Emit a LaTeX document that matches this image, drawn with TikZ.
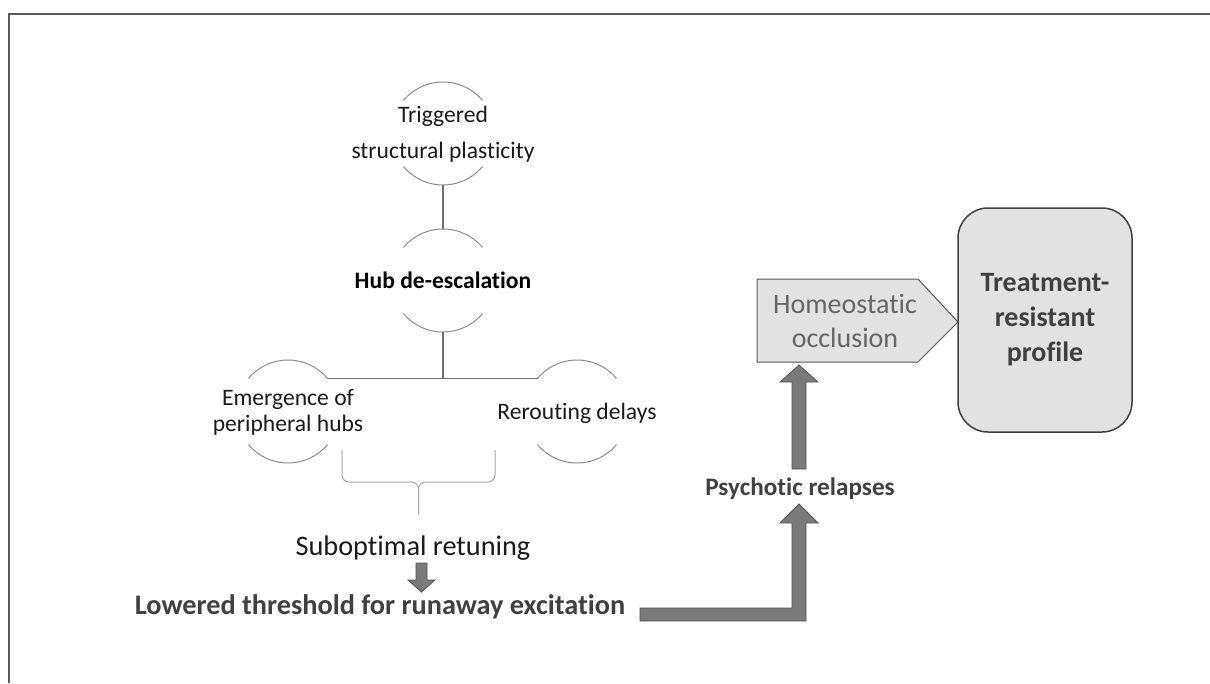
\documentclass[tikz,border=0pt]{standalone}
\usepackage{fontspec}
\setmainfont{Carlito}[Ligatures={NoCommon}]
\usetikzlibrary{calc}
\definecolor{framegray}{HTML}{5A5A5A}
\definecolor{arcgray}{HTML}{8C8C8C}
\definecolor{conngray}{HTML}{707070}
\definecolor{bracegray}{HTML}{A8A8A8}
\definecolor{arrowfill}{HTML}{7A7A7A}
\definecolor{arrowline}{HTML}{555555}
\definecolor{boxfill}{HTML}{E2E2E2}
\definecolor{homeotext}{HTML}{666666}
\definecolor{darktext}{HTML}{404040}
\definecolor{labeltext}{HTML}{1A1A1A}
\tikzset{
  frameline/.style={draw=framegray, line width=2pt},
  ring/.style={circle, minimum size=103pt, inner sep=0pt, outer sep=0pt, draw=none},
  arcline/.style={draw=arcgray, line width=1pt},
  conn/.style={draw=conngray, line width=1.3pt},
  bracel/.style={draw=bracegray, line width=1pt, rounded corners=7pt},
  blockarrow/.style={fill=arrowfill, draw=arrowline, line width=0.8pt, line join=miter},
  lbl/.style={font=\fontsize{23.6}{36}\selectfont, text=labeltext, align=center, inner sep=0pt},
  lbltight/.style={font=\fontsize{23.6}{26}\selectfont, text=labeltext, align=center, inner sep=0pt},
  bigbold/.style={font=\fontsize{28.3}{34}\selectfont\bfseries, text=darktext, inner sep=0pt},
}
\begin{document}
\begin{tikzpicture}[x=1pt,y=-1pt]
\useasboundingbox (0,0) rectangle (1210,683);
% frame
\draw[frameline] (1210,14) -- (9,14) -- (9,683);

% invisible rings that carry the arcs
\node[ring] (trigR) at (443,133.5) {};
\node[ring] (hubR)  at (443,280.5) {};
\node[ring] (emerR) at (288,411.5) {};
\node[ring] (rerR)  at (577,411.5) {};
\foreach \r in {trigR,hubR,emerR,rerR}{
  \draw[arcline] (\r.140) arc[start angle=-140, end angle=-40, radius=51.5];
  \draw[arcline] (\r.-40) arc[start angle=40, end angle=140, radius=51.5];
}

% labels
\node[lbl] (trig) at (443,134) {Triggered\\structural plasticity};
\node[lbl, font=\fontsize{23.6}{28}\selectfont\bfseries, text=black, anchor=base] (hub) at (443,288) {Hub de-escalation};
\node[lbltight] (emer) at (288,412) {Emergence of\\peripheral hubs};
\node[lbl, anchor=base] (rer) at (577,419) {Rerouting delays};

% connectors
\draw[conn] (trigR.south) -- (hubR.north);
\coordinate (junc) at (hubR.south |- emerR.40);
\draw[conn] (hubR.south) -- (junc);
\draw[conn] (emerR.40) -- (rerR.140);

% brace
\coordinate (braceL) at (342,450);
\coordinate (braceR) at (495,450);
\coordinate (braceM) at (418.5,482);
\coordinate (braceT) at (418.5,514);
\draw[bracel] (braceL) |- (braceM) -- (braceT);
\draw[bracel] (braceR) |- (braceM) -- (braceT);

\node[font=\fontsize{28.3}{34}\selectfont, text=labeltext, inner sep=0pt, anchor=base] (sub) at (413,555) {Suboptimal retuning};
\node[bigbold, anchor=base] (low) at (380,614) {Lowered threshold for runaway excitation};
\node[bigbold, font=\fontsize{25.2}{32}\selectfont\bfseries, anchor=base] (psy) at (800,495) {Psychotic relapses};

% down arrow: sub -> low
\coordinate (dA) at (421.5,563);
\draw[blockarrow] (dA) ++(-5.5,0) -- ++(0,17) -- ++(-8,0) -- (421.5,592) -- ++(13.5,-12) -- ++(-8,0) -- ++(0,-17) -- cycle;

% elbow arrow: low -> psy
\coordinate (eA) at (640,608);
\draw[blockarrow] (eA) -- (792,608) -- (792,523) -- (780,523) -- (799,504) -- (818,523) -- (806,523) -- (806,621) -- (640,621) -- cycle;

% up arrow: psy -> homeo
\coordinate (uA) at (799,469);
\draw[blockarrow] (792,469) -- (792,382) -- (780,382) -- (799,365) -- (818,382) -- (806,382) -- (806,469) -- cycle;

% homeostatic occlusion pentagon
\draw[fill=boxfill, draw=arrowline, line width=1pt, line join=miter] (757,279) -- (918,279) -- (958,322) -- (918,362) -- (757,362) -- cycle;
\node[font=\fontsize{28}{34}\selectfont, text=homeotext, align=center, inner sep=0pt] (homeo) at (845,321) {Homeostatic\\occlusion};

% treatment-resistant profile
\node[draw=darktext, fill=boxfill, line width=1.5pt, rounded corners=30pt, minimum width=174pt, minimum height=224pt, inner sep=0pt,
      font=\fontsize{28}{35}\selectfont\bfseries, text=darktext, align=center] (treat) at (1045,320) {Treatment-\\resistant\\profile};
\end{tikzpicture}
\end{document}
